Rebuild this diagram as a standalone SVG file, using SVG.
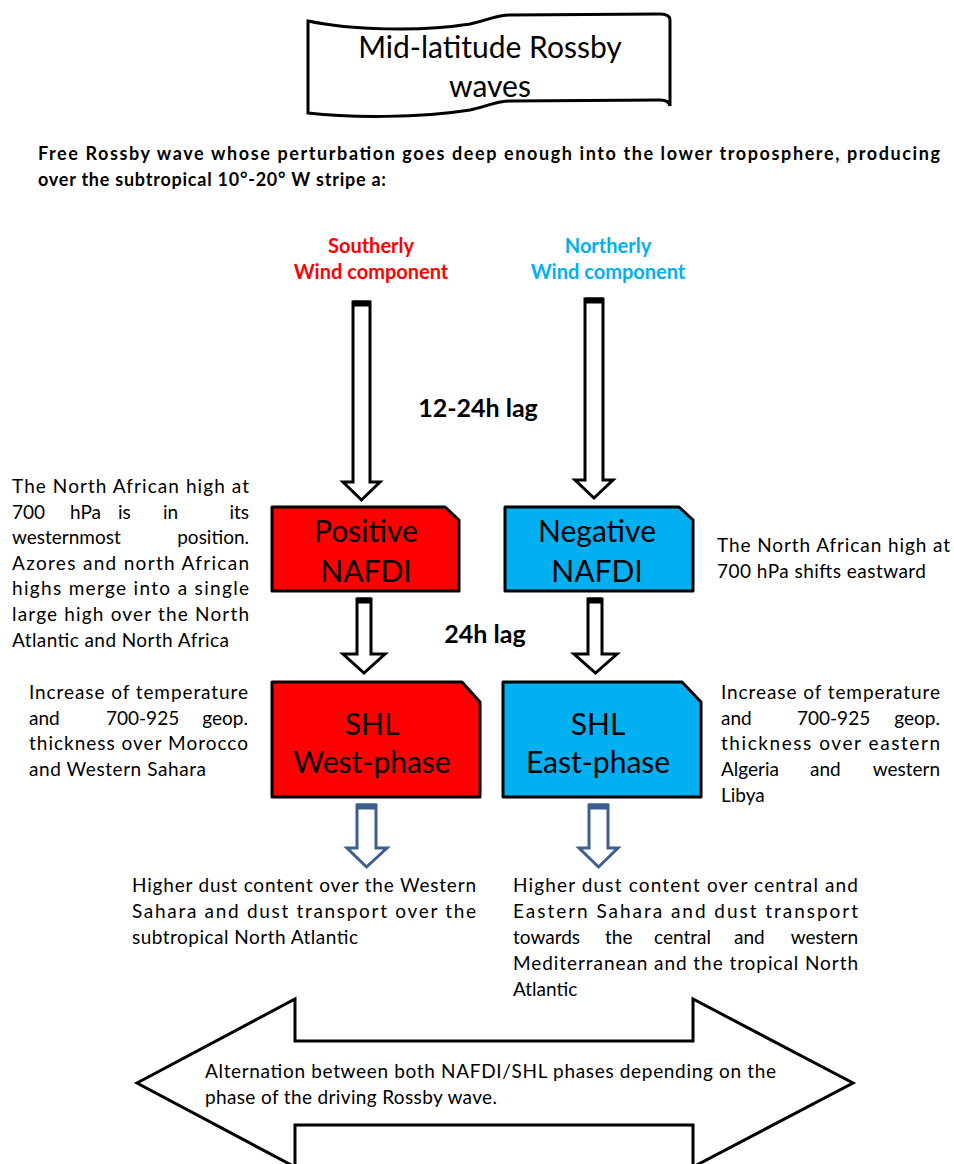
<svg xmlns="http://www.w3.org/2000/svg" width="954" height="1164" viewBox="0 0 954 1164">
<style>
  .t { font-family: Lato, "Liberation Sans", Arial, sans-serif; font-size: 19px; fill: #000; }
  .b { font-family: Lato, "Liberation Sans", Arial, sans-serif; font-weight: bold; }
  .big { font-family: Lato, "Liberation Sans", Arial, sans-serif; font-size: 30px; fill: #000; text-anchor: middle; }
  .box { stroke: #000; stroke-width: 3; stroke-linejoin: round; }
  .arr { fill: #fff; stroke: #000; stroke-width: 3; stroke-linejoin: miter; }
  .barr { fill: #fff; stroke: #3d5f8e; stroke-width: 3; stroke-linejoin: miter; }
  .red { fill: #ff0000; }
  .blue { fill: #00b0f0; }
</style>
<rect width="954" height="1164" fill="#fff"/>

<g id="banner">
  <path d="M308,21 C350,30 420,32 470,24 C490,20 495,15 510,15 L660,14 Q670,14 670,20 L670,106 Q669,100 660,100 L510,101 C495,101 490,106 470,110 C420,118 350,118 308,113 Z" fill="#fff" stroke="#000" stroke-width="3"/>
  <text class="big" x="490" y="58" font-size="29">Mid-latitude Rossby</text>
  <text class="big" x="490" y="97" font-size="29">waves</text>
</g>

<g id="heading">
  <text class="b" x="38" y="160" font-size="18" textLength="902" lengthAdjust="spacing">Free Rossby wave whose perturbation goes deep enough into the lower troposphere, producing</text>
  <text class="b" x="38" y="186" font-size="18" textLength="348" lengthAdjust="spacing">over the subtropical 10°-20° W stripe a:</text>
</g>

<g id="southerly">
  <text class="b" x="371" y="253" font-size="20" fill="#ff0000" text-anchor="middle">Southerly</text>
  <text class="b" x="371" y="279" font-size="20" fill="#ff0000" text-anchor="middle">Wind component</text>
</g>
<g id="northerly">
  <text class="b" x="608" y="253" font-size="20" fill="#00b0f0" text-anchor="middle">Northerly</text>
  <text class="b" x="608" y="279" font-size="20" fill="#00b0f0" text-anchor="middle">Wind component</text>
</g>

<g id="connectors">
  <g id="arrow-south">
    <polygon class="arr" points="353,302 370,302 370,482 380,482 361.5,500 343,482 353,482"/>
    <rect x="353" y="300.5" width="17" height="6" fill="#000"/>
  </g>
  <g id="arrow-north">
    <polygon class="arr" points="585,299 603,299 603,480 613,480 594,498 575,480 585,480"/>
    <rect x="585" y="297.5" width="18" height="6" fill="#000"/>
  </g>
  <g id="arrow-pos">
    <polygon class="arr" points="357,599 371,599 371,654 385,654 364,673 343,654 357,654"/>
    <rect x="357" y="597.5" width="14" height="6" fill="#000"/>
  </g>
  <g id="arrow-neg">
    <polygon class="arr" points="588,599 602,599 602,654 617,654 595.5,673 574,654 588,654"/>
    <rect x="588" y="597.5" width="14" height="6" fill="#000"/>
  </g>
  <g id="arrow-west">
    <polygon class="barr" points="357,805 376,805 376,848 387,848 366.5,867 347,848 357,848"/>
    <rect x="357" y="803.5" width="19" height="6" fill="#3d5f8e"/>
  </g>
  <g id="arrow-east">
    <polygon class="barr" points="589,805 608,805 608,848 618,848 598.5,867 579,848 589,848"/>
    <rect x="589" y="803.5" width="19" height="6" fill="#3d5f8e"/>
  </g>
</g>

<text id="lag1" class="b" x="478" y="417" font-size="25" text-anchor="middle">12-24h lag</text>
<text id="lag2" class="b" x="485" y="643" font-size="25" text-anchor="middle">24h lag</text>

<g id="positive-nafdi">
  <path class="box red" d="M272,507 L445,507 L459,520 L459,591 L272,591 Z"/>
  <text class="big" x="366" y="542">Positive</text>
  <text class="big" x="366" y="582">NAFDI</text>
</g>
<g id="negative-nafdi">
  <path class="box blue" d="M505,507 L679,507 L693,520 L693,591 L505,591 Z"/>
  <text class="big" x="597" y="542">Negative</text>
  <text class="big" x="597" y="582">NAFDI</text>
</g>
<g id="shl-west">
  <path class="box red" d="M272,682 L462,682 L480,702 L480,797 L272,797 Z"/>
  <text class="big" x="372" y="735">SHL</text>
  <text class="big" x="372" y="773">West-phase</text>
</g>
<g id="shl-east">
  <path class="box blue" d="M503,682 L682,682 L701,702 L701,797 L503,797 Z"/>
  <text class="big" x="598" y="735">SHL</text>
  <text class="big" x="598" y="773">East-phase</text>
</g>

<g id="note-left-1" class="t">
  <text x="12" y="493" textLength="237" lengthAdjust="spacing">The North African high at</text>
  <text x="12" y="519">700</text><text x="70" y="519">hPa</text><text x="118" y="519">is</text><text x="163" y="519">in</text><text x="249" y="519" text-anchor="end">its</text>
  <text x="12" y="544">westernmost</text><text x="249" y="544" text-anchor="end">position.</text>
  <text x="12" y="570" textLength="237" lengthAdjust="spacing">Azores and north African</text>
  <text x="12" y="595" textLength="237" lengthAdjust="spacing">highs merge into a single</text>
  <text x="12" y="621" textLength="237" lengthAdjust="spacing">large high over the North</text>
  <text x="12" y="647" textLength="217" lengthAdjust="spacing">Atlantic and North Africa</text>
</g>

<g id="note-right-1" class="t">
  <text x="717" y="552" textLength="233" lengthAdjust="spacing">The North African high at</text>
  <text x="717" y="578" textLength="209" lengthAdjust="spacing">700 hPa shifts eastward</text>
</g>

<g id="note-left-2" class="t">
  <text x="29" y="699" textLength="219" lengthAdjust="spacing">Increase of temperature</text>
  <text x="29" y="725">and</text><text x="106" y="725">700-925</text><text x="248" y="725" text-anchor="end">geop.</text>
  <text x="29" y="750" textLength="219" lengthAdjust="spacing">thickness over Morocco</text>
  <text x="29" y="776" textLength="177" lengthAdjust="spacing">and Western Sahara</text>
</g>

<g id="note-right-2" class="t">
  <text x="721" y="699" textLength="219" lengthAdjust="spacing">Increase of temperature</text>
  <text x="721" y="725">and</text><text x="797" y="725">700-925</text><text x="940" y="725" text-anchor="end">geop.</text>
  <text x="721" y="750" textLength="219" lengthAdjust="spacing">thickness over eastern</text>
  <text x="721" y="776">Algeria</text><text x="810" y="776">and</text><text x="940" y="776" text-anchor="end">western</text>
  <text x="721" y="802">Libya</text>
</g>

<g id="note-bottom-left" class="t">
  <text x="132" y="892" textLength="344" lengthAdjust="spacing">Higher dust content over the Western</text>
  <text x="132" y="918" textLength="344" lengthAdjust="spacing">Sahara and dust transport over the</text>
  <text x="132" y="944" textLength="226" lengthAdjust="spacing">subtropical North Atlantic</text>
</g>

<g id="note-bottom-right" class="t">
  <text x="513" y="892" textLength="345" lengthAdjust="spacing">Higher dust content over central and</text>
  <text x="513" y="918" textLength="345" lengthAdjust="spacing">Eastern Sahara and dust transport</text>
  <text x="513" y="944">towards</text><text x="605" y="944">the</text><text x="654" y="944">central</text><text x="734" y="944">and</text><text x="858" y="944" text-anchor="end">western</text>
  <text x="513" y="970" textLength="345" lengthAdjust="spacing">Mediterranean and the tropical North</text>
  <text x="513" y="996">Atlantic</text>
</g>

<g id="alternation">
  <path d="M137,1083 L295,999 L295,1041 L693,1041 L693,999 L853,1083 L693,1167 L693,1125 L295,1125 L295,1167 Z" fill="#fff" stroke="#000" stroke-width="3" stroke-linejoin="miter"/>
  <text class="t" x="205" y="1078" textLength="571" lengthAdjust="spacing">Alternation between both NAFDI/SHL phases depending on the</text>
  <text class="t" x="205" y="1104" textLength="292" lengthAdjust="spacing">phase of the driving Rossby wave.</text>
</g>
</svg>
